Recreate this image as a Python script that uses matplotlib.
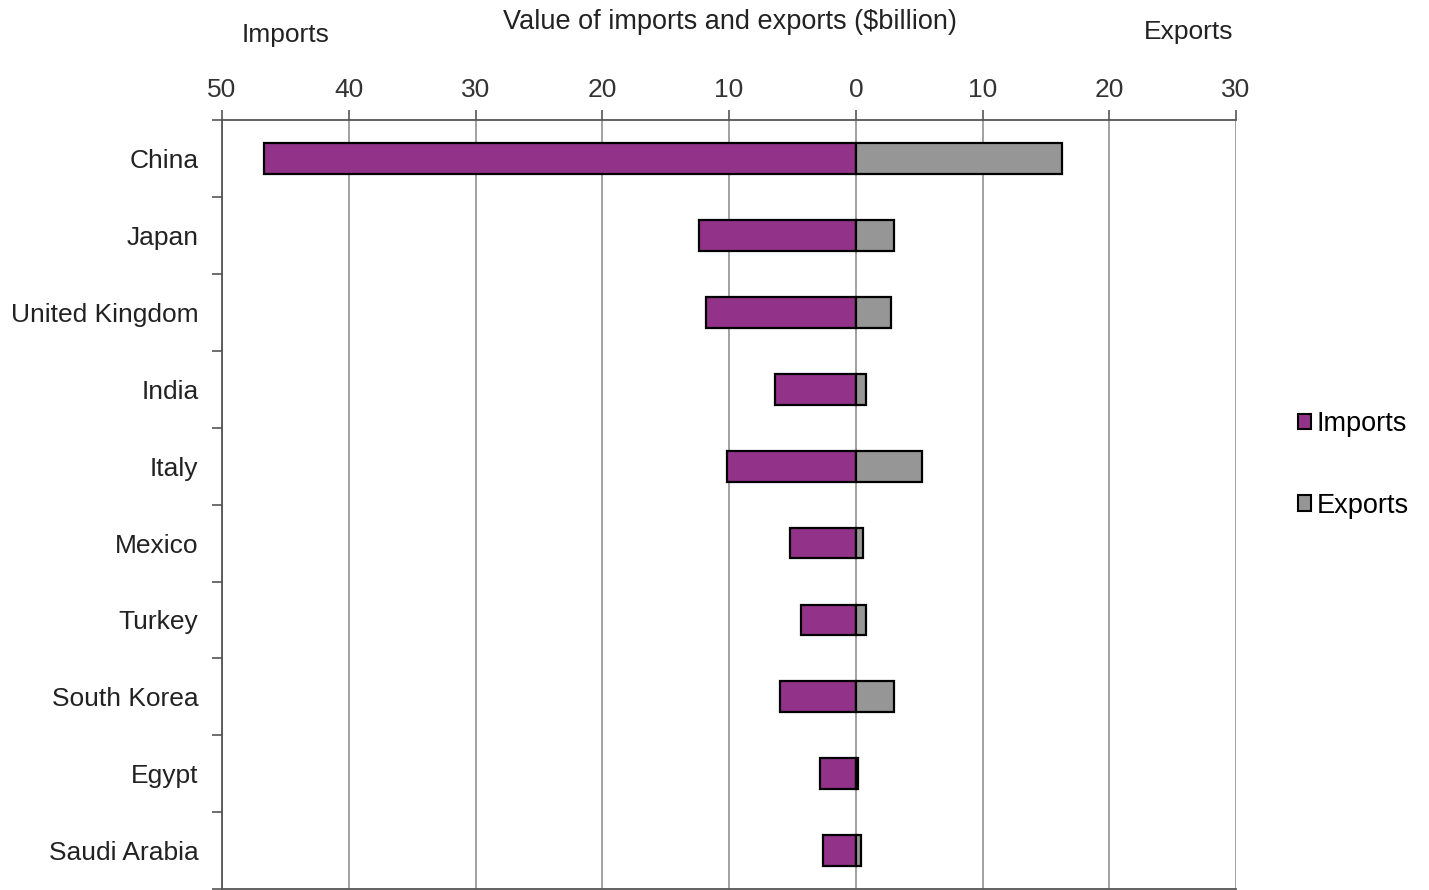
import numpy as np
import matplotlib
matplotlib.use("Agg")
import matplotlib.pyplot as plt
from matplotlib.patches import Patch

plt.rcParams.update({
    "font.family": ["Liberation Sans", "DejaVu Sans"],
    "font.size": 19,
})

# ── data ($billion) ──────────────────────────────────────────────
countries = ["China", "Japan", "United Kingdom", "India", "Italy",
             "Mexico", "Turkey", "South Korea", "Egypt", "Saudi Arabia"]
imports = [46.7, 12.4, 11.8, 6.4, 10.2, 5.2, 4.3, 6.0, 2.8, 2.6]
exports = [16.3, 3.0, 2.8, 0.8, 5.2, 0.6, 0.8, 3.0, 0.2, 0.4]
xticks = [-50, -40, -30, -20, -10, 0, 10, 20, 30]

PURPLE = "#923389"
GREY = "#969696"

fig = plt.figure(figsize=(14.29, 8.9), dpi=100)
ax = fig.add_axes([0.1554, 0.001, 0.7096, 0.864])

y = np.arange(len(countries))
ax.barh(y, [-v for v in imports], height=0.4, color=PURPLE,
        edgecolor="black", linewidth=1.6, zorder=3)
ax.barh(y, exports, height=0.4, color=GREY,
        edgecolor="black", linewidth=1.6, zorder=3)

ax.set_xlim(-50, 30)
ax.set_ylim(len(countries) - 0.5, -0.5)

ax.xaxis.tick_top()
ax.set_xticks(xticks)
ax.set_xticklabels([str(abs(t)) for t in xticks], color="#333333")
ax.tick_params(axis="x", length=7, width=1.2, color="#555555", pad=6)
ax.grid(axis="x", color="#9a9a9a", linewidth=1.3, zorder=0)

ax.set_yticks(y)
ax.set_yticklabels(countries, color="#222222")
ax.set_yticks(np.arange(len(countries) + 1) - 0.5, minor=True)
ax.tick_params(axis="y", which="major", length=0, pad=17)
ax.tick_params(axis="y", which="minor", length=7, width=1.2, color="#555555")

for side in ["top", "left", "bottom"]:
    ax.spines[side].set_color("#555555")
    ax.spines[side].set_linewidth(1.3)
ax.spines["right"].set_visible(False)

fig.text(0.511, 0.975, "Value of imports and exports ($billion)",
         ha="center", va="center", fontsize=19.5, color="#222222")
fig.text(0.2, 0.961, "Imports", ha="center", va="center",
         fontsize=19, color="#222222")
fig.text(0.832, 0.964, "Exports", ha="center", va="center",
         fontsize=19, color="#222222")

handles = [Patch(facecolor=PURPLE, edgecolor="black", linewidth=1.5),
           Patch(facecolor=GREY, edgecolor="black", linewidth=1.5)]
fig.legend(handles, ["Imports", "Exports"], loc="center left",
           bbox_to_anchor=(0.9005, 0.4775), frameon=False, fontsize=19.5,
           handlelength=0.5, handleheight=0.5, handletextpad=0.2,
           labelspacing=2.05, borderaxespad=0)

fig.savefig("out.png", dpi=100)
